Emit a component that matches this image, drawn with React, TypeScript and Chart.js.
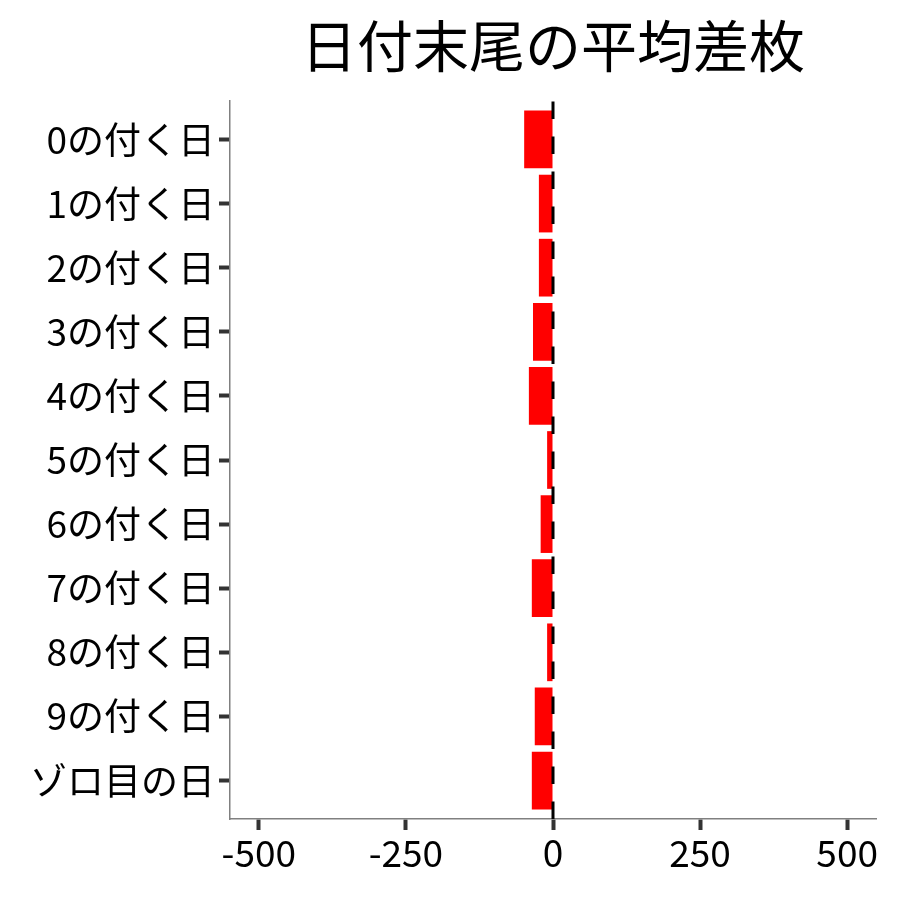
import React, { useEffect, useRef } from "react";
import { Chart, registerables } from "chart.js";

Chart.register(...registerables);

const categories = [
  "0の付く日",
  "1の付く日",
  "2の付く日",
  "3の付く日",
  "4の付く日",
  "5の付く日",
  "6の付く日",
  "7の付く日",
  "8の付く日",
  "9の付く日",
  "ゾロ目の日",
];
const diffValues = [-49, -24, -24, -34, -41, -10, -21, -36, -10, -31, -36];
const xTicks = [-500, -250, 0, 250, 500];
const titleText = "日付末尾の平均差枚";

const FONT = "'Noto Sans CJK JP', 'Noto Sans', sans-serif";

// dashed reference line at 0, drawn from the bottom up like ggplot does
const zeroLine = {
  id: "zeroLine",
  afterDatasetsDraw(chart: Chart) {
    const { ctx, chartArea, scales } = chart;
    const x = scales.x.getPixelForValue(0);
    ctx.save();
    ctx.strokeStyle = "#000";
    ctx.lineWidth = 3;
    ctx.setLineDash([17.5, 17.5]);
    ctx.beginPath();
    ctx.moveTo(x, chartArea.bottom);
    ctx.lineTo(x, chartArea.top);
    ctx.stroke();
    ctx.restore();
  },
};

// title centred over the plot panel, not the whole canvas
const panelTitle = {
  id: "panelTitle",
  afterDraw(chart: Chart) {
    const { ctx, chartArea } = chart;
    ctx.save();
    ctx.fillStyle = "#000";
    ctx.font = `56px ${FONT}`;
    ctx.textAlign = "center";
    ctx.textBaseline = "middle";
    ctx.fillText(titleText, (chartArea.left + chartArea.right) / 2, 46);
    ctx.restore();
  },
};

const axisGrid = {
  offset: false,
  drawOnChartArea: false,
  drawTicks: true,
  tickLength: 11,
  tickWidth: 4,
  tickColor: "#333",
};

export default function App() {
  const canvasRef = useRef<HTMLCanvasElement | null>(null);

  useEffect(() => {
    let chart: Chart | null = null;
    const ctx = canvasRef.current?.getContext("2d");
    if (ctx) {
      chart = new Chart(ctx, {
        type: "bar",
        data: {
          datasets: [
            {
              data: diffValues.map((v, i) => ({ x: v, y: i })),
              backgroundColor: "#ff0000",
              borderWidth: 0,
              barPercentage: 0.9,
              categoryPercentage: 1,
            },
          ],
        },
        options: {
          indexAxis: "y",
          animation: false,
          responsive: false,
          layout: { padding: { left: 0, right: 24, top: 101, bottom: 0 } },
          plugins: {
            legend: { display: false },
            tooltip: { enabled: false },
            title: { display: false },
          },
          scales: {
            x: {
              type: "linear",
              min: -549,
              max: 549,
              offset: false,
              afterBuildTicks: (scale: any) => {
                scale.ticks = xTicks.map((v) => ({ value: v }));
              },
              afterFit: (scale: any) => {
                scale.height = 81;
              },
              ticks: {
                color: "#000",
                font: { family: FONT, size: 37 },
                padding: 1,
                maxRotation: 0,
                callback: (v: any) => String(v),
              },
              grid: axisGrid,
              border: { color: "#808080", width: 1.5 },
            },
            y: {
              type: "linear",
              reverse: true,
              offset: false,
              min: -0.6,
              max: categories.length - 1 + 0.6,
              afterBuildTicks: (scale: any) => {
                scale.ticks = categories.map((_, i) => ({ value: i }));
              },
              afterFit: (scale: any) => {
                scale.width = 230;
              },
              ticks: {
                color: "#000",
                font: { family: FONT, size: 37 },
                padding: 4,
                callback: (v: any) => categories[v] ?? "",
              },
              grid: axisGrid,
              border: { color: "#808080", width: 1.5 },
            },
          },
        },
        plugins: [zeroLine, panelTitle],
      });
    }
    return () => {
      if (chart) chart.destroy();
    };
  }, []);

  return (
    <div style={{ position: "absolute", left: 0, top: 0, width: 900, height: 900, background: "#fff" }}>
      <canvas ref={canvasRef} width={900} height={900} />
    </div>
  );
}
